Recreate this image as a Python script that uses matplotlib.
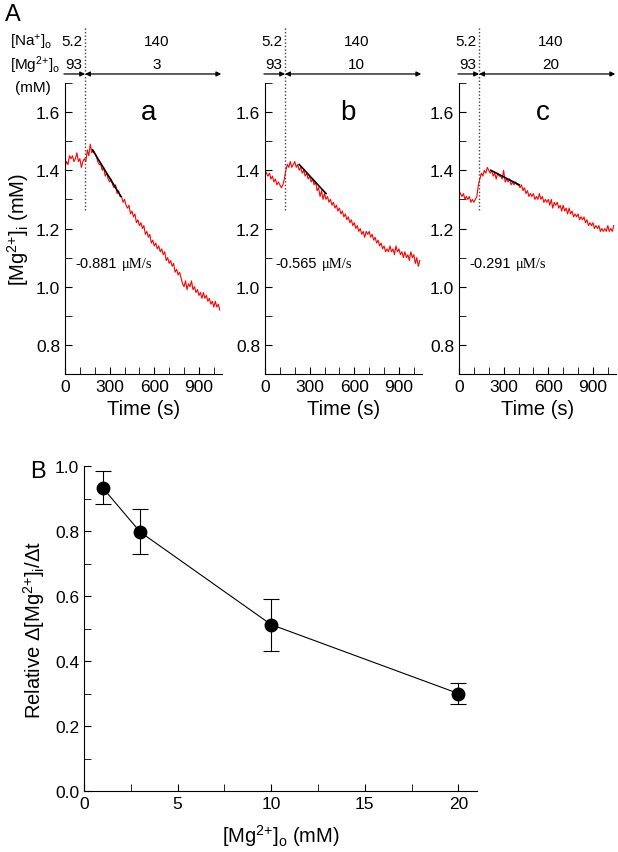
import matplotlib
matplotlib.use('Agg')
import matplotlib.pyplot as plt
from matplotlib.ticker import MultipleLocator

plt.rcParams['font.family'] = ['Liberation Sans', 'DejaVu Sans']
plt.rcParams['mathtext.fontset'] = 'custom'
plt.rcParams['mathtext.rm'] = 'Liberation Sans'
plt.rcParams['mathtext.it'] = 'Liberation Sans:italic'

# time traces, one reading every 10 s (0 .. 1040 s)
time_s = list(range(0, 1050, 10))

mg_a = [1.41, 1.43, 1.42, 1.45, 1.44, 1.45, 1.43, 1.44, 1.46, 1.43,
        1.44, 1.41, 1.43, 1.44, 1.43, 1.47, 1.45, 1.49, 1.46, 1.47,
        1.46, 1.45, 1.43, 1.42, 1.42, 1.40, 1.41, 1.38, 1.39, 1.37,
        1.36, 1.37, 1.35, 1.34, 1.35, 1.32, 1.33, 1.31, 1.31, 1.29,
        1.30, 1.28, 1.27, 1.28, 1.25, 1.26, 1.24, 1.25, 1.22, 1.23,
        1.21, 1.22, 1.20, 1.21, 1.18, 1.19, 1.17, 1.18, 1.15, 1.16,
        1.14, 1.15, 1.13, 1.14, 1.12, 1.13, 1.11, 1.12, 1.09, 1.10,
        1.08, 1.09, 1.07, 1.08, 1.05, 1.06, 1.04, 1.05, 1.03, 1.01,
        1.00, 1.02, 0.99, 1.01, 1.00, 1.02, 0.99, 1.00, 0.98, 0.99,
        0.97, 0.98, 0.96, 0.98, 0.96, 0.97, 0.95, 0.96, 0.94, 0.95,
        0.93, 0.95, 0.93, 0.94, 0.92]

mg_b = [1.40, 1.39, 1.38, 1.39, 1.37, 1.38, 1.36, 1.37, 1.35, 1.36,
        1.35, 1.34, 1.35, 1.37, 1.40, 1.42, 1.41, 1.43, 1.41, 1.42,
        1.43, 1.41, 1.42, 1.40, 1.41, 1.39, 1.40, 1.38, 1.39, 1.37,
        1.38, 1.36, 1.37, 1.35, 1.36, 1.33, 1.34, 1.31, 1.33, 1.30,
        1.32, 1.30, 1.31, 1.29, 1.30, 1.28, 1.29, 1.27, 1.28, 1.26,
        1.27, 1.25, 1.26, 1.24, 1.25, 1.23, 1.24, 1.22, 1.23, 1.21,
        1.22, 1.20, 1.21, 1.19, 1.20, 1.18, 1.19, 1.17, 1.19, 1.18,
        1.19, 1.17, 1.18, 1.16, 1.17, 1.15, 1.16, 1.14, 1.15, 1.13,
        1.14, 1.12, 1.13, 1.12, 1.14, 1.12, 1.13, 1.11, 1.14, 1.12,
        1.13, 1.11, 1.12, 1.10, 1.12, 1.10, 1.11, 1.09, 1.12, 1.10,
        1.11, 1.08, 1.10, 1.07, 1.09]

mg_c = [1.33, 1.32, 1.31, 1.32, 1.30, 1.31, 1.30, 1.31, 1.29, 1.30,
        1.29, 1.30, 1.31, 1.35, 1.37, 1.39, 1.38, 1.40, 1.39, 1.41,
        1.40, 1.39, 1.40, 1.38, 1.39, 1.37, 1.39, 1.38, 1.38, 1.37,
        1.40, 1.36, 1.37, 1.36, 1.37, 1.35, 1.36, 1.35, 1.36, 1.35,
        1.35, 1.34, 1.35, 1.33, 1.34, 1.32, 1.33, 1.31, 1.32, 1.31,
        1.32, 1.30, 1.31, 1.30, 1.32, 1.30, 1.31, 1.29, 1.30, 1.29,
        1.30, 1.28, 1.30, 1.27, 1.29, 1.28, 1.29, 1.27, 1.28, 1.26,
        1.28, 1.26, 1.27, 1.25, 1.27, 1.25, 1.26, 1.24, 1.25, 1.24,
        1.25, 1.23, 1.24, 1.23, 1.24, 1.22, 1.23, 1.21, 1.22, 1.21,
        1.22, 1.20, 1.21, 1.20, 1.21, 1.19, 1.20, 1.19, 1.20, 1.19,
        1.21, 1.19, 1.20, 1.19, 1.21]

# linear fits (start/end)
fit_t = [[185, 376], [230, 410], [214, 405]]
fit_y = [[1.47, 1.31], [1.42, 1.32], [1.40, 1.35]]

panel_names = ['a', 'b', 'c']
slopes = ['-0.881', '-0.565', '-0.291']
mg_out = ['3', '10', '20']
switch_t = 135

# panel B
mg_o = [1, 3, 10, 20]
rel_rate = [0.933, 0.797, 0.512, 0.300]
err_hi = [0.985, 0.867, 0.592, 0.333]
err_lo = [0.884, 0.729, 0.431, 0.267]

MG2 = r'[Mg$\mathregular{^{2{+}}}$]'

W, H = 618, 853
fig = plt.figure(figsize=(W / 100, H / 100), dpi=100)

def box(left, top, right, bottom):
    return [left / W, 1 - bottom / H, (right - left) / W, (bottom - top) / H]

lefts = [65, 265, 459]
traces = [mg_a, mg_b, mg_c]

for i in range(3):
    ax = fig.add_axes(box(lefts[i], 84, lefts[i] + 157, 375))
    ax.plot(time_s, traces[i], color='red', lw=0.8)
    ax.plot(fit_t[i], fit_y[i], color='black', lw=1.2)
    ax.set_xlim(0, 1055)
    ax.set_ylim(0.7, 1.7)
    ax.spines['top'].set_visible(False)
    ax.spines['right'].set_visible(False)
    ax.xaxis.set_major_locator(MultipleLocator(300))
    ax.xaxis.set_minor_locator(MultipleLocator(100))
    ax.yaxis.set_minor_locator(MultipleLocator(0.1))
    ax.set_yticks([0.8, 1.0, 1.2, 1.4, 1.6])
    ax.tick_params(which='both', direction='in', labelsize=12.5, length=5)
    ax.set_xlabel('Time (s)', fontsize=14.5, labelpad=4)
    if i == 0:
        ax.set_ylabel(MG2 + r'$\mathregular{_i}$ (mM)', fontsize=14.5)
        ax.yaxis.set_label_coords(-0.215, 0.5)

    trans = ax.get_xaxis_transform()
    ax.plot([switch_t, switch_t], [1.19, 0.56], transform=trans, color='#444444',
            lw=1, ls=(0, (1, 1.5)), clip_on=False)
    ax.annotate('', xy=(switch_t, 1.031), xytext=(-7, 1.031), xycoords=trans,
                textcoords=trans, annotation_clip=False,
                arrowprops=dict(arrowstyle='-|>', color='black', lw=0.9,
                                mutation_scale=7, shrinkA=0, shrinkB=0))
    ax.annotate('', xy=(1050, 1.031), xytext=(switch_t, 1.031), xycoords=trans,
                textcoords=trans, annotation_clip=False,
                arrowprops=dict(arrowstyle='<|-|>', color='black', lw=0.9,
                                mutation_scale=7, shrinkA=0, shrinkB=0))
    ax.text(switch_t - 15, 1.144, '5.2', transform=trans, ha='right', va='center', fontsize=11)
    ax.text(switch_t - 20, 1.065, '93', transform=trans, ha='right', va='center', fontsize=11)
    ax.text(615, 1.144, '140', transform=trans, ha='center', va='center', fontsize=11)
    ax.text(615, 1.065, mg_out[i], transform=trans, ha='center', va='center', fontsize=11)

    ax.text(560, 1.6, panel_names[i], ha='center', va='center', fontsize=20)
    ax.text(72, 1.08, slopes[i], ha='left', va='center', fontsize=10.5)
    ax.text(385, 1.08, 'μM/s', ha='left', va='center', fontsize=10.5,
            family=['Liberation Serif', 'DejaVu Serif'])

fig.text(5 / W, 1 - 15 / H, 'A', fontsize=17, ha='left', va='center')
fig.text(10 / W, 1 - 42 / H, r'[Na$\mathregular{^{+}}$]$\mathregular{_o}$', fontsize=11,
         ha='left', va='center')
fig.text(10 / W, 1 - 65 / H, MG2 + r'$\mathregular{_o}$', fontsize=11,
         ha='left', va='center')
fig.text(15 / W, 1 - 88 / H, '(mM)', fontsize=11, ha='left', va='center')

# panel B
axb = fig.add_axes(box(84, 467, 477, 792))
axb.errorbar(mg_o, rel_rate,
             yerr=[[r - l for r, l in zip(rel_rate, err_lo)],
                   [h - r for h, r in zip(err_hi, rel_rate)]],
             color='black', lw=0.8, marker='o', markersize=9, capsize=5.5,
             elinewidth=0.8, capthick=0.8)
axb.set_xlim(0, 21)
axb.set_ylim(0, 1.0)
axb.spines['top'].set_visible(False)
axb.spines['right'].set_visible(False)
axb.xaxis.set_major_locator(MultipleLocator(5))
axb.xaxis.set_minor_locator(MultipleLocator(2.5))
axb.yaxis.set_major_locator(MultipleLocator(0.2))
axb.yaxis.set_minor_locator(MultipleLocator(0.1))
axb.tick_params(which='both', direction='in', labelsize=12.5, length=5)
axb.set_xlabel(MG2 + r'$\mathregular{_o}$ (mM)', fontsize=14.5, labelpad=8)
axb.set_ylabel(r'Relative $\Delta$' + MG2 + r'$\mathregular{_i}$/$\Delta$t', fontsize=14.5)
axb.yaxis.set_label_coords(-0.095, 0.5)
fig.text(30 / W, 1 - 472 / H, 'B', fontsize=17, ha='left', va='center')

fig.savefig('out.png', dpi=100)
